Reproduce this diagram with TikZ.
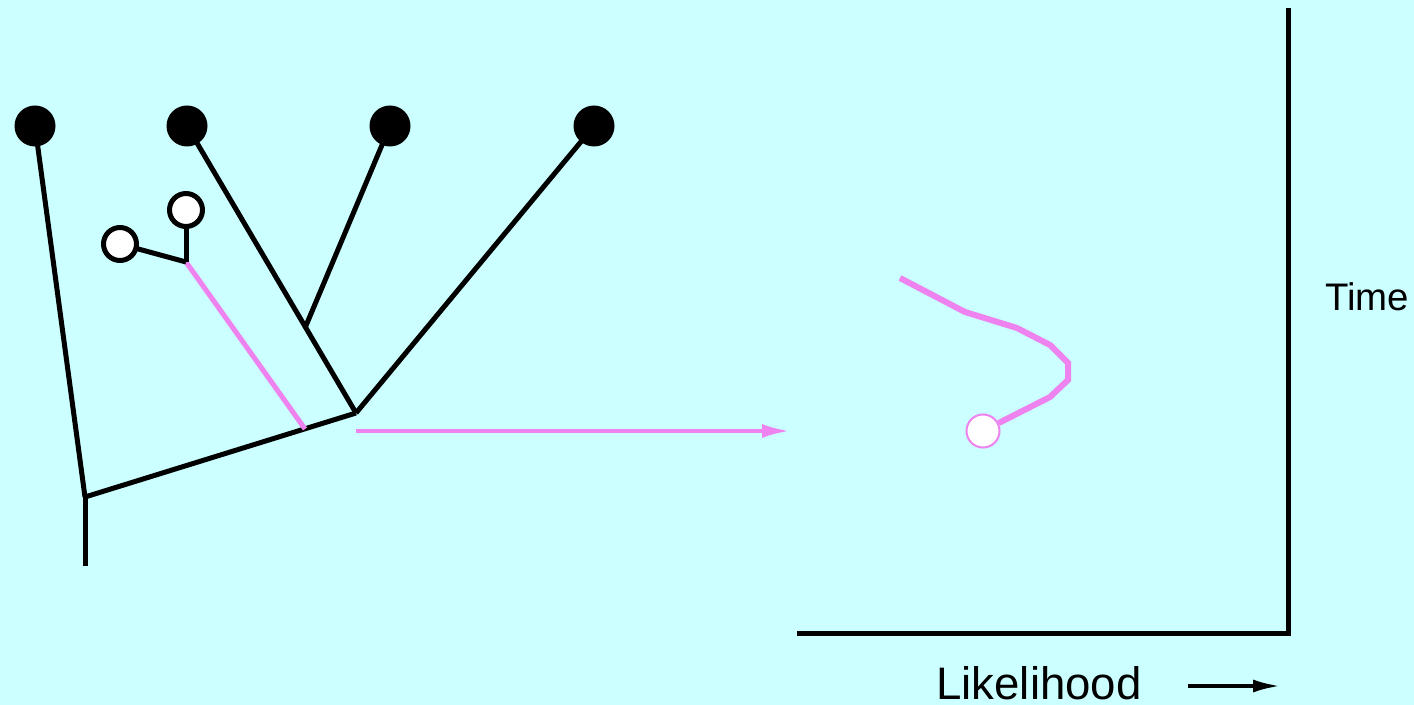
\documentclass[tikz,border=0pt]{standalone}
\usepackage{fontspec}
\setmainfont{Liberation Sans}
\usetikzlibrary{arrows.meta}
\definecolor{bg}{HTML}{CCFFFF}
\definecolor{pink}{HTML}{EE82EE}
\begin{document}
\begin{tikzpicture}[x=0.5pt,y=-0.5pt,
  branch/.style={line width=2.5pt,black},
  pinkline/.style={line width=2.5pt,pink},
  tip/.style={circle,fill=black,minimum size=20.5pt,inner sep=0pt},
  newtip/.style={circle,draw=black,line width=2.5pt,fill=white,minimum size=16.5pt,inner sep=0pt},
  mark0/.style={circle,draw=pink,line width=1pt,fill=white,minimum size=16.5pt,inner sep=0pt},
  lbl/.style={inner sep=0pt}]
\fill[bg] (0,0) rectangle (1414,705);
\useasboundingbox (0,0) rectangle (1414,705);
% internal coordinates
\coordinate (root) at (85,566);
\coordinate (r) at (85,497);
\coordinate (a) at (356,413);
\coordinate (b) at (305,328);
\coordinate (j) at (305,429);
\coordinate (g) at (186,262);
% branches
\draw[branch] (35,126) -- (r);
\draw[branch] (r) -- (root);
\draw[branch] (r) -- (a);
\draw[branch] (187,126) -- (a);
\draw[branch] (390,126) -- (b);
\draw[branch] (594,126) -- (a);
\draw[pinkline] (g) -- (j);
\draw[branch] (g) -- (120,244);
\draw[branch] (g) -- (186,210);
% tips
\node[tip] (t1) at (35,126) {};
\node[tip] (t2) at (187,126) {};
\node[tip] (t3) at (390,126) {};
\node[tip] (t4) at (594,126) {};
\node[newtip] (n1) at (120,244) {};
\node[newtip] (n2) at (186,210) {};
% arrow
\coordinate (as) at (356,431);
\coordinate (ae) at (790,431);
\draw[pink,line width=2pt,-{Latex[length=14pt,width=7pt]}] (as) -- (ae);
% curve
\node[mark0] (m) at (983,431) {};
\draw[pink,line width=3pt,line join=miter] (900,278) -- (965,312) -- (1017,328) -- (1050,345) -- (1068,363) -- (1068,380) -- (1050,397) -- (m);
% axes
\coordinate (ax0) at (797,633);
\coordinate (ax1) at (1288,633);
\coordinate (ax2) at (1288,8);
\draw[line width=2.5pt] (ax0) -- (ax1) -- (ax2);
\node[lbl,font=\fontsize{19.2}{23}\selectfont] (time) at (1367,297) {Time};
\node[lbl,anchor=base,font=\fontsize{22.8}{27}\selectfont] (lik) at (1039,699) {Likelihood};
\coordinate (la) at (1188,686);
\coordinate (lb) at (1281,686);
\draw[line width=2pt,-{Latex[length=14pt,width=6.5pt]}] (la) -- (lb);
\end{tikzpicture}
\end{document}
